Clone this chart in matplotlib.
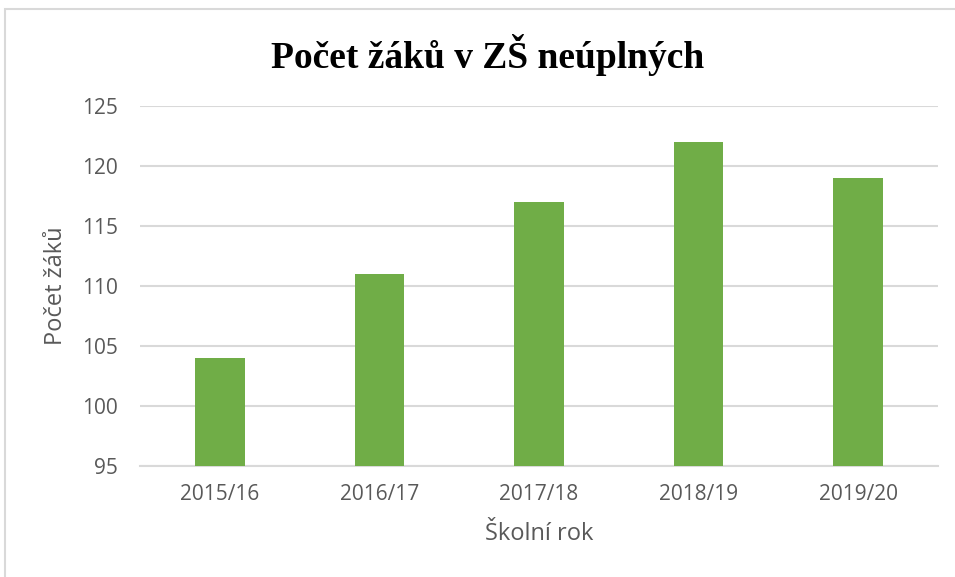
import matplotlib
matplotlib.use("Agg")
import matplotlib.pyplot as plt
from matplotlib.patches import Rectangle

# data
years = ["2015/16", "2016/17", "2017/18", "2018/19", "2019/20"]
pupils = [104, 111, 117, 122, 119]
y_ticks = [95, 100, 105, 110, 115, 120, 125]

green = "#70AD47"
grid_c = "#D9D9D9"
text_c = "#595959"

fig = plt.figure(figsize=(9.55, 5.77), dpi=100)
ax = fig.add_axes([140 / 955, 1 - 466 / 577, 798 / 955, 360 / 577])

ax.bar(range(len(years)), pupils, width=0.31, color=green, zorder=3)
ax.set_xlim(-0.5, len(years) - 0.5)
ax.set_ylim(95, 125)
ax.set_yticks(y_ticks)
ax.set_xticks(range(len(years)))
ax.set_xticklabels(years)

ax.grid(axis="y", color=grid_c, linewidth=1.5, zorder=0)
for s in ["top", "right", "left"]:
    ax.spines[s].set_visible(False)
ax.spines["bottom"].set_color(grid_c)
ax.spines["bottom"].set_linewidth(1.5)
ax.tick_params(length=0, labelsize=15, labelcolor=text_c, pad=13)
ax.tick_params(axis="y", pad=16)
for lab in ax.get_xticklabels() + ax.get_yticklabels():
    lab.set_family("Open Sans")

ax.set_xlabel("Školní rok", fontsize=17, color=text_c, family="Open Sans", labelpad=12)
ax.set_ylabel("Počet žáků", fontsize=17, color=text_c, family="Open Sans", labelpad=10)

fig.text(488 / 955, 1 - 55 / 577, "Počet žáků v ZŠ neúplných", ha="center", va="center",
         fontsize=27, fontweight="bold", family="Liberation Serif")

# chart border
fig.patches.append(Rectangle((5 / 955, -0.05), 1.1, 1 - 9 / 577 + 0.05, transform=fig.transFigure,
                             fill=False, edgecolor=grid_c, linewidth=1.5))

fig.savefig("out.png", dpi=100)
